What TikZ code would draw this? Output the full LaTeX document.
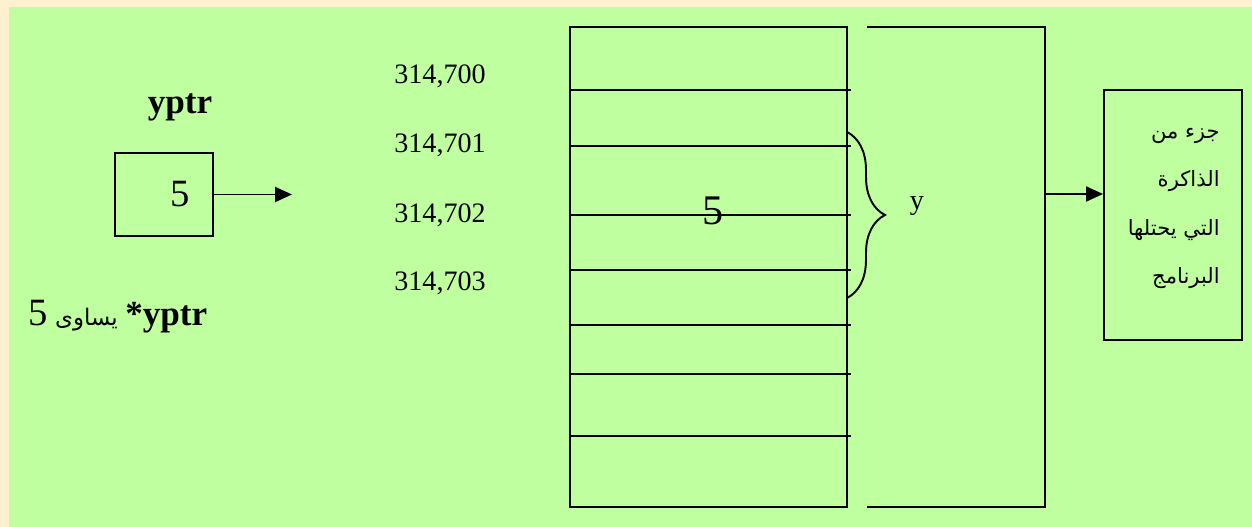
\documentclass[tikz,border=0pt]{standalone}
\usepackage{fontspec}
\setmainfont{Liberation Serif}
\newfontfamily\arabicfont[Script=Arabic]{DejaVu Sans}
\TeXXeTstate=1
\usetikzlibrary{arrows.meta, positioning, decorations.pathreplacing}
\definecolor{pagecream}{RGB}{255, 240, 208}
\definecolor{slidegreen}{RGB}{192, 255, 160}

\begin{document}
\begin{tikzpicture}[x=0.02cm, y=-0.02cm, >={Triangle[length=3.4mm, width=3mm]},
  cell/.style={line width=1.1pt},
  addr/.style={font=\fontsize{16}{16}\selectfont, anchor=base west, inner sep=0pt},
  arabic/.style={font=\arabicfont\fontsize{12}{27.5}\selectfont, align=right, inner sep=0pt}]
  % background
  \fill[pagecream] (0,0) rectangle (1252,527);
  \fill[slidegreen] (9,7) rectangle (1252,527);
  \useasboundingbox (0,0) rectangle (1252,527);

  % pointer variable
  \node[font=\bfseries\fontsize{20}{20}\selectfont] (ptrname) at (180,107) {yptr};
  \node[draw, line width=1.1pt, minimum width=1.96cm, minimum height=1.66cm,
        text width=1.04cm, inner xsep=0.46cm, align=right,
        font=\fontsize{22}{22}\selectfont] (ptrbox) at (164,194.5) {5};
  \coordinate (ptrend) at (292,194.5);
  \draw[line width=1.1pt, ->] (ptrbox.east) -- (ptrend);
  \node[anchor=base west, inner sep=0pt] (derefnote) at (28,325)
    {{\fontsize{22}{22}\selectfont 5}\hspace{0.15cm}{\arabicfont\fontsize{13}{13}\selectfont\beginR يساوى\endR}\hspace{0.15cm}{\bfseries\fontsize{20}{20}\selectfont *yptr}};

  % memory cells
  \draw[cell] (570,27) rectangle (847,507);
  \foreach \yy in {90,146,215,270,325,374,436}
    \draw[cell] (570,\yy) -- (851,\yy);
  \foreach \i/\yy in {0/84,1/153,2/222,3/291}
    \node[addr] (addr\i) at (394,\yy) {314,70\i};
  \node[font=\fontsize{24}{24}\selectfont] (cellval) at (713,210.5) {5};

  % brace over y
  \draw[line width=1.1pt, decorate, decoration={brace, amplitude=0.76cm}] (847,132) -- (847,298);
  \node[font=\fontsize{16}{16}\selectfont] (yname) at (917,206) {y};

  % program area
  \draw[line width=1.1pt] (867,27) -- (1045,27) -- (1045,507) -- (867,507);
  \coordinate (areaout) at (1045,194);
  \node[draw, line width=1.1pt, minimum width=2.76cm, minimum height=5cm] (partbox) at (1173,215) {};
  \node[arabic, anchor=north east] (parttext) at (1220,128)
    {\beginR جزء من\endR\\ \beginR الذاكرة\endR\\ \beginR التي يحتلها\endR\\ \beginR البرنامج\endR};
  \draw[line width=1.1pt, ->] (areaout) -- (areaout -| partbox.west);
\end{tikzpicture}
\end{document}
